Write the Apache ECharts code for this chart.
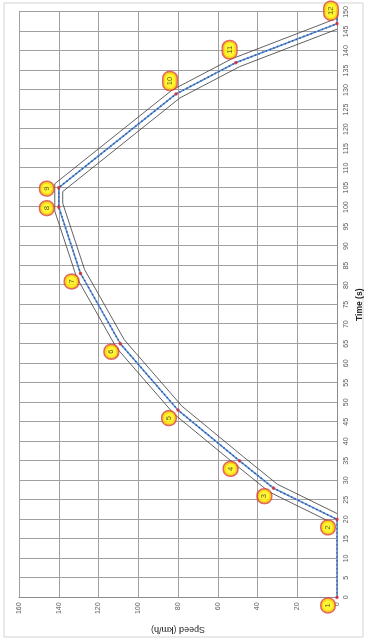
<!DOCTYPE html>
<html>
<head>
<meta charset="utf-8">
<script src="https://cdn.jsdelivr.net/npm/echarts@6/dist/echarts.min.js"></script>
<style>
  html, body { margin: 0; padding: 0; background: #fff; overflow: hidden; }
  #chart {
    position: absolute; left: 0; top: 0;
    width: 642px; height: 369px;
    transform-origin: 0 0;
    transform: translate(0px, 642px) rotate(-90deg);
  }
</style>
</head>
<body>
<div id="chart"></div>
<script>
// ---- data ----
const timeS    = [0, 20, 28, 35, 48, 65, 83, 100, 105, 129, 137, 147, 150];
const speedKmh = [0, 0, 32, 49, 80, 109, 129, 140, 140, 81, 51, 0, 0];
const pointLabels = ['1','2','3','4','5','6','7','8','9','10','11','12'];

const upperT = [17, 19, 27, 34, 47, 64, 82, 99, 106, 130, 138, 148];
const upperV = [2, 2, 34, 51, 82, 111, 131, 142, 142, 83, 53, 2];
const lowerT = [21.5, 29, 36, 49, 66, 84, 101, 104, 128, 136, 145.6];
const lowerV = [0, 30, 47, 78, 107, 127, 138, 138, 79, 49, 0];

const timeTicks  = { min: 0, max: 150, step: 5 };
const speedTicks = { min: 0, max: 160, step: 20 };

// ---- build ----
const zip = (a, b) => a.map((v, i) => [v, b[i]]);
const profile = zip(timeS, speedKmh);

const FONT = '"Liberation Sans", Arial, sans-serif';

const labelOffset = (i) => {
  const v = speedKmh[i], prev = speedKmh[i - 1], next = speedKmh[i + 1];
  if (v > 0 && (prev === v || next === v)) return [-1, -12];
  if (prev !== undefined && prev > v) return [13, -6];
  return [-8, -9];
};

const points = pointLabels.map((lab, i) => ({
  value: [timeS[i], speedKmh[i]],
  label: { offset: labelOffset(i) }
}));

const chart = echarts.init(document.getElementById('chart'), null, { renderer: 'canvas' });

const gridColor = '#a0a0a0';

chart.setOption({
  animation: false,
  backgroundColor: '#fff',
  textStyle: { fontFamily: FONT },
  graphic: [{
    type: 'rect', shape: { x: 5, y: 4, width: 634, height: 359 },
    style: { fill: 'none', stroke: '#d4d4d4', lineWidth: 1 }, z: -1
  }],
  grid: { left: 40, right: 12, top: 19, bottom: 32 },
  xAxis: {
    type: 'value', min: timeTicks.min, max: timeTicks.max, interval: timeTicks.step,
    name: 'Time (s)', nameLocation: 'middle', nameGap: 16,
    nameTextStyle: { fontSize: 8.5, fontWeight: 'bold', color: '#222', fontFamily: FONT },
    axisLine: { show: true, lineStyle: { color: '#8c8c8c', width: 1 } },
    axisTick: { show: false },
    axisLabel: { fontSize: 7, color: '#595959', margin: 6, fontFamily: FONT },
    splitLine: { show: true, lineStyle: { color: gridColor, width: 1 } }
  },
  yAxis: {
    type: 'value', min: speedTicks.min, max: speedTicks.max, interval: speedTicks.step,
    name: 'Speed (km/h)', nameLocation: 'middle', nameRotate: 90, nameGap: 24,
    nameTextStyle: { fontSize: 9, color: '#333', fontFamily: FONT },
    axisLine: { show: true, lineStyle: { color: '#8c8c8c', width: 1 } },
    axisTick: { show: false },
    axisLabel: { fontSize: 7, color: '#595959', margin: 5, fontFamily: FONT },
    splitLine: { show: true, lineStyle: { color: gridColor, width: 1 } }
  },
  series: [
    { type: 'line', data: zip(upperT, upperV), symbol: 'none', silent: true,
      lineStyle: { color: '#3a3a3a', width: 0.8 }, z: 2 },
    { type: 'line', data: zip(lowerT, lowerV), symbol: 'none', silent: true,
      lineStyle: { color: '#3a3a3a', width: 0.8 }, z: 2 },
    { type: 'line', data: profile, symbol: 'none', silent: true,
      lineStyle: { color: '#5b8fd6', width: 1.6 }, z: 3 },
    { type: 'line', data: profile, symbol: 'none', silent: true,
      lineStyle: { color: '#2f5597', width: 1.6, type: [1.2, 2.8] }, z: 4 },
    { type: 'scatter', data: points, symbol: 'circle', symbolSize: 3.5, silent: true,
      itemStyle: { color: '#e0262a' }, z: 5,
      label: {
        show: true, position: 'inside',
        formatter: (p) => pointLabels[p.dataIndex],
        fontSize: 7.5, color: '#333', fontFamily: FONT,
        backgroundColor: '#fff200', borderColor: '#d9443a', borderWidth: 1.6,
        borderRadius: 6, padding: [2.5, 4.5]
      }
    }
  ]
});
</script>
</body>
</html>
